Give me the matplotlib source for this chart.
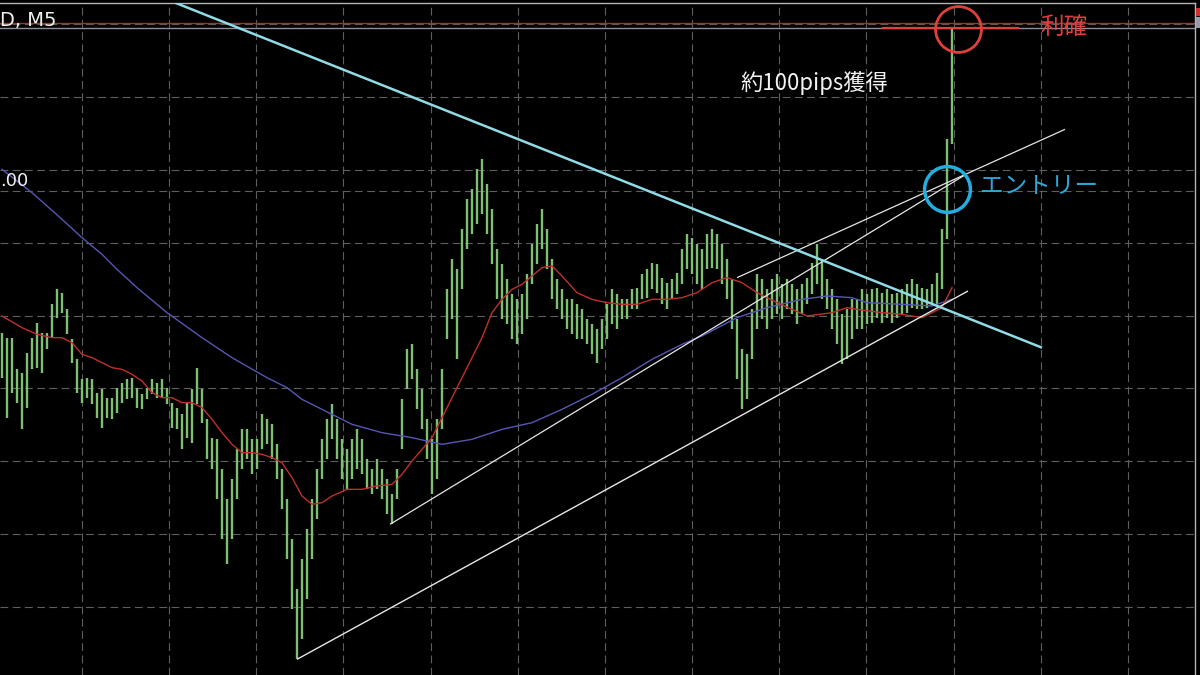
import matplotlib
matplotlib.use("Agg")
import matplotlib.pyplot as plt
from matplotlib.patches import Rectangle
import numpy as np

plt.rcParams['font.family'] = ['Noto Sans CJK JP', 'DejaVu Sans']

# ---- M5 bars (high / low prices), one per bar ----
highs = [108.15, 108.12, 108.12, 107.93, 107.91, 108.03, 108.12, 108.21, 108.15, 108.15,
         108.32, 108.41, 108.39, 108.29, 108.11, 107.99, 107.87, 107.88, 107.87, 107.79,
         107.81, 107.76, 107.76, 107.82, 107.85, 107.87, 107.88, 107.82, 107.78, 107.82,
         107.87, 107.85, 107.87, 107.82, 107.73, 107.70, 107.66, 107.73, 107.81, 107.94,
         107.81, 107.63, 107.52, 107.51, 107.33, 107.15, 107.27, 107.45, 107.57, 107.57,
         107.51, 107.51, 107.66, 107.63, 107.60, 107.48, 107.33, 107.15, 106.91, 106.61,
         106.79, 106.97, 107.15, 107.33, 107.51, 107.63, 107.72, 107.63, 107.51, 107.45,
         107.51, 107.57, 107.51, 107.39, 107.33, 107.39, 107.33, 107.27, 107.18, 107.33,
         107.75, 108.05, 108.08, 107.93, 107.81, 107.63, 107.51, 107.63, 107.93, 108.41,
         108.59, 108.53, 108.77, 108.95, 109.01, 109.13, 109.19, 109.04, 108.89, 108.65,
         108.56, 108.47, 108.38, 108.35, 108.38, 108.50, 108.68, 108.80, 108.89, 108.77,
         108.59, 108.47, 108.41, 108.35, 108.35, 108.32, 108.29, 108.23, 108.20, 108.17,
         108.23, 108.32, 108.41, 108.38, 108.35, 108.35, 108.41, 108.42, 108.50, 108.53,
         108.57, 108.56, 108.48, 108.45, 108.47, 108.51, 108.65, 108.74, 108.72, 108.68,
         108.65, 108.74, 108.77, 108.74, 108.68, 108.59, 108.47, 108.23, 108.05, 108.02,
         108.29, 108.50, 108.47, 108.41, 108.47, 108.50, 108.44, 108.47, 108.44, 108.41,
         108.44, 108.48, 108.57, 108.68, 108.59, 108.47, 108.41, 108.35, 108.26, 108.29,
         108.35, 108.35, 108.41, 108.38, 108.41, 108.42, 108.39, 108.41, 108.38, 108.39,
         108.41, 108.44, 108.47, 108.44, 108.42, 108.41, 108.44, 108.51, 108.77, 109.31,
         109.97]
lows = [107.88, 107.64, 107.79, 107.73, 107.57, 107.70, 107.93, 107.94, 107.91, 108.05,
        108.12, 108.24, 108.27, 108.14, 107.97, 107.79, 107.73, 107.76, 107.72, 107.64,
        107.58, 107.64, 107.63, 107.67, 107.73, 107.75, 107.76, 107.70, 107.69, 107.75,
        107.78, 107.76, 107.76, 107.72, 107.58, 107.57, 107.45, 107.52, 107.49, 107.72,
        107.61, 107.39, 107.33, 107.15, 106.91, 106.76, 106.91, 107.15, 107.33, 107.39,
        107.30, 107.33, 107.45, 107.48, 107.39, 107.27, 107.09, 106.79, 106.49, 106.19,
        106.31, 106.55, 106.79, 107.03, 107.27, 107.39, 107.51, 107.39, 107.27, 107.21,
        107.27, 107.33, 107.30, 107.21, 107.18, 107.21, 107.15, 107.06, 107.00, 107.15,
        107.45, 107.81, 107.87, 107.69, 107.57, 107.39, 107.18, 107.27, 107.57, 108.11,
        108.23, 107.99, 108.41, 108.65, 108.74, 108.80, 108.86, 108.74, 108.56, 108.35,
        108.23, 108.20, 108.11, 108.08, 108.14, 108.23, 108.44, 108.56, 108.65, 108.53,
        108.35, 108.29, 108.23, 108.17, 108.14, 108.11, 108.11, 108.08, 108.02, 107.97,
        108.05, 108.11, 108.20, 108.17, 108.23, 108.23, 108.29, 108.29, 108.35, 108.36,
        108.41, 108.39, 108.32, 108.29, 108.35, 108.38, 108.44, 108.53, 108.50, 108.44,
        108.41, 108.53, 108.54, 108.53, 108.44, 108.35, 108.17, 107.87, 107.69, 107.75,
        107.99, 108.17, 108.23, 108.17, 108.23, 108.26, 108.23, 108.29, 108.26, 108.20,
        108.26, 108.32, 108.38, 108.44, 108.35, 108.29, 108.17, 108.08, 107.96, 107.99,
        108.11, 108.17, 108.17, 108.20, 108.21, 108.24, 108.21, 108.24, 108.21, 108.24,
        108.26, 108.27, 108.30, 108.29, 108.29, 108.30, 108.32, 108.32, 108.41, 108.71,
        109.28]

# ---- moving averages (bar index, price) ----
fast_ma_idx = [0, 4, 7, 10, 12, 14, 16, 18, 20, 22, 24, 26, 28, 30, 32, 34, 36, 38, 40, 42,
               44, 46, 48, 50, 52, 54, 56, 58, 60, 62, 64, 66, 69, 72, 75, 78, 80, 82, 84, 86,
               88, 90, 92, 94, 96, 98, 100, 102, 104, 106, 108, 110, 112, 115, 118, 121, 124,
               127, 130, 133, 136, 139, 142, 145, 148, 151, 155, 161, 166, 169, 171, 176, 180,
               184, 188, 190]
fast_ma = [108.25, 108.18, 108.14, 108.12, 108.12, 108.09, 108.02, 108.00, 107.97, 107.94,
           107.93, 107.90, 107.86, 107.79, 107.76, 107.76, 107.73, 107.73, 107.70, 107.63,
           107.55, 107.48, 107.43, 107.43, 107.42, 107.40, 107.37, 107.28, 107.17, 107.12,
           107.13, 107.17, 107.21, 107.21, 107.23, 107.24, 107.30, 107.38, 107.45, 107.52,
           107.64, 107.76, 107.88, 108.00, 108.12, 108.27, 108.35, 108.41, 108.44, 108.49,
           108.54, 108.55, 108.49, 108.39, 108.35, 108.33, 108.32, 108.32, 108.35, 108.35,
           108.36, 108.39, 108.45, 108.48, 108.45, 108.39, 108.33, 108.25, 108.27, 108.30,
           108.29, 108.27, 108.26, 108.24, 108.30, 108.42]
slow_ma_idx = [0, 6, 12, 16, 20, 23, 27, 33, 40, 46, 53, 57, 60, 64, 70, 76, 82, 88, 94, 100,
               106, 112, 118, 124, 130, 136, 140, 147, 153, 160, 165, 170, 173, 180, 186, 190]
slow_ma = [109.13, 108.99, 108.83, 108.72, 108.62, 108.53, 108.42, 108.27, 108.12, 108.00,
           107.88, 107.82, 107.75, 107.69, 107.60, 107.55, 107.52, 107.48, 107.51, 107.57,
           107.61, 107.69, 107.78, 107.88, 107.99, 108.08, 108.13, 108.24, 108.30, 108.35,
           108.37, 108.36, 108.33, 108.32, 108.31, 108.35]

# ---- hand-drawn trend lines: (bar index, price) end points ----
resistance_line = [(34.6, 110.13), (208.0, 108.06)]
support_line = [(59.0, 106.19), (193.2, 108.40)]
inner_line = [(77.6, 107.00), (192.8, 109.10)]
channel_line = [(147.0, 108.48), (212.6, 109.37)]

entry_price = 109.01
entry_bar = 189
exit_price = 109.97
exit_bar = 191.2
tp_line_price = 109.98
tp_segment = (176.2, 203.2)
bid_line = 110.01
round_level = 109.00

# ---- figure ----
W, H = 1200, 675
fig = plt.figure(figsize=(W / 100, H / 100), dpi=100, facecolor='black')
ax = fig.add_axes([0, 0, 1195 / W, 672 / H])
ax.set_facecolor('black')
ax.set_xlim(-0.4, 238.6)
ax.set_ylim(106.096, 110.128)

for s in ['left', 'bottom']:
    ax.spines[s].set_visible(False)
for s in ['top', 'right']:
    ax.spines[s].set_color('#b5b5b5')
    ax.spines[s].set_linewidth(1.0)
ax.set_xticks([])
ax.set_yticks([])

grid_kw = dict(color='#5e5e5e', lw=0.8, linestyle=(0, (7, 4)), zorder=1)
for gx in 16 + 17.43 * np.arange(13):
    ax.axvline(gx, **grid_kw)
for gy in 109.564 - 0.4372 * np.arange(-1, 9):
    ax.axhline(gy, **grid_kw)
ax.axhline(round_level, **grid_kw)

# price lines at top
ax.axhline(bid_line, color='#a83030', lw=1.0, zorder=2)
ax.axhline(tp_line_price, color='#8e8e9e', lw=1.0, zorder=2)

# bars
idx = np.arange(len(highs))
ax.vlines(idx, lows, highs, color='#7fbf74', lw=1.7, zorder=3)

# moving averages
ax.plot(slow_ma_idx, slow_ma, color='#5656b4', lw=1.0, zorder=4)
ax.plot(fast_ma_idx, fast_ma, color='#c0302a', lw=1.0, zorder=4)

# trend lines
for line, col, lw in [(support_line, '#e6e6e6', 1.0), (inner_line, '#e6e6e6', 0.9),
                      (channel_line, '#e6e6e6', 0.9), (resistance_line, '#8fdbe6', 1.8)]:
    (x0, y0), (x1, y1) = line
    ax.plot([x0, x1], [y0, y1], color=col, lw=lw, zorder=5, solid_capstyle='butt')

# annotations
ax.plot([tp_segment[0], tp_segment[1]], [tp_line_price, tp_line_price], color='#e0403a', lw=1.6, zorder=6)
ax.plot([exit_bar], [exit_price], marker='o', ms=33, mfc='none', mec='#e0403a', mew=2.0, zorder=6)
ax.plot([entry_bar], [entry_price], marker='o', ms=33, mfc='none', mec='#22aee0', mew=2.5, zorder=6)

ax.text(207.6, 109.984, '利確', color='#e0403a', fontsize=17, va='center', ha='left', zorder=7)
ax.text(195.6, 109.03, 'エントリー', color='#2aa8d8', fontsize=17, va='center', ha='left', zorder=7)
ax.text(147.6, 109.648, '約100pips獲得', color='#f2f2f2', fontsize=16, va='center', ha='left', zorder=7)

fig.text(0.0, 1 - 21 / H, 'D, M5', color='#f0f0f0', fontsize=14, va='center', ha='left',
         family=['DejaVu Sans'])
fig.text(0.0, 1 - 181 / H, '.00', color='#f0f0f0', fontsize=13, va='center', ha='left',
         family=['DejaVu Sans'])

# small price marker at the top right edge
fig.patches.append(Rectangle((1196 / W, 1 - 16 / H), 4 / W, 8 / H, transform=fig.transFigure,
                             facecolor='#d03030', edgecolor='none'))
fig.patches.append(Rectangle((1196 / W, 1 - 28 / H), 4 / W, 11 / H, transform=fig.transFigure,
                             facecolor='#9a9aa8', edgecolor='none'))

fig.savefig('out.png', dpi=100, facecolor='black')
